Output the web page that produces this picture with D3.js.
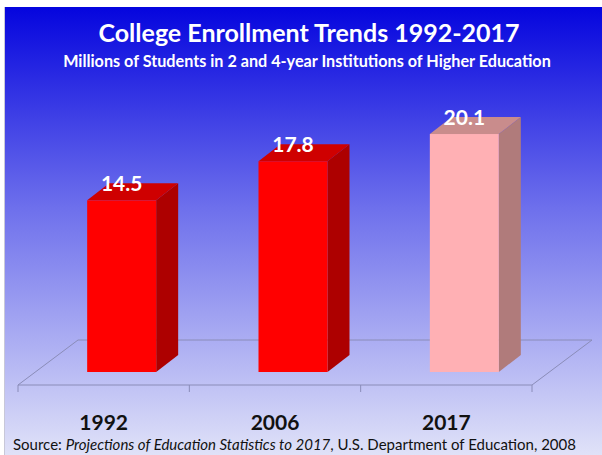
<!DOCTYPE html>
<html>
<head>
<meta charset="utf-8">
<style>
  html, body { margin: 0; padding: 0; background: #fff; }
  svg { display: block; }
</style>
</head>
<body>
<svg width="602" height="455"></svg>
<script src="https://d3js.org/d3.v7.min.js"></script>
<script>
var years = ["1992", "2006", "2017"];
var enrollment = [14.5, 17.8, 20.1];
var projected = [false, false, true];
var valueLabels = ["14.5", "17.8", "20.1"];

var svg = d3.select("svg"),
    W = +svg.attr("width"),
    H = +svg.attr("height");

// background panel with vertical blue gradient
var defs = svg.append("defs");
var grad = defs.append("linearGradient").attr("id", "bg")
    .attr("x1", 0).attr("y1", 0).attr("x2", 0).attr("y2", 1);
grad.append("stop").attr("offset", "0%").attr("stop-color", "#0505de");
grad.append("stop").attr("offset", "45%").attr("stop-color", "#6e70ec");
grad.append("stop").attr("offset", "100%").attr("stop-color", "#e0e2f8");

svg.append("rect").attr("x", 4).attr("y", 7)
    .attr("width", W - 4).attr("height", H - 7)
    .attr("fill", "url(#bg)");
svg.append("line").attr("x1", 4.5).attr("x2", 4.5).attr("y1", 7).attr("y2", H)
    .attr("stroke", "#c8c8d8");

// titles
svg.append("text").attr("x", 309).attr("y", 42)
    .attr("text-anchor", "middle")
    .attr("font-family", "Lato, 'Open Sans', sans-serif")
    .attr("font-weight", "bold").attr("font-size", 25)
    .attr("fill", "#fff")
    .text("College Enrollment Trends 1992-2017");
svg.append("text").attr("x", 307).attr("y", 67)
    .attr("text-anchor", "middle")
    .attr("font-family", "Lato, 'Open Sans', sans-serif")
    .attr("font-weight", "bold").attr("font-size", 16.2)
    .attr("fill", "#fff")
    .text("Millions of Students in 2 and 4-year Institutions of Higher Education");

// 3d geometry
var floorFront = 385,
    floorDepth = {dx: 60, dy: -45},
    barDepth = {dx: 22, dy: -17},
    barBase = 372,
    barShift = 18,
    barW = 69;

var x = d3.scaleBand().domain(years).range([18, 532]);
var y = d3.scaleLinear().domain([0, 25]).range([barBase, barBase - 25 * 11.84]);

// floor
var x0 = x.range()[0], x1 = x.range()[1];
var floor = svg.append("g").attr("fill", "none")
    .attr("stroke", "#8a8cb8").attr("stroke-width", 1);
floor.append("path").attr("d",
    "M" + x0 + "," + floorFront +
    "L" + x1 + "," + floorFront +
    "L" + (x1 + floorDepth.dx) + "," + (floorFront + floorDepth.dy) +
    "L" + (x0 + floorDepth.dx) + "," + (floorFront + floorDepth.dy) + "Z");
var tickXs = years.map(function(d) { return x(d); }).concat([x1]);
floor.selectAll("line.tick").data(tickXs).enter().append("line")
    .attr("x1", function(d) { return d; }).attr("x2", function(d) { return d; })
    .attr("y1", floorFront).attr("y2", floorFront + 7);

// bars
var data = years.map(function(d, i) {
    return {year: d, value: enrollment[i], proj: projected[i], label: valueLabels[i]};
});
var colors = {
    actual: {front: "#ff0000", side: "#ad0000", top: "#cf0000"},
    proj:   {front: "#ffb0b4", side: "#b07b7b", top: "#c98c8c"}
};

var bars = svg.append("g").selectAll("g.bar").data(data).enter().append("g");
bars.each(function(d) {
    var g = d3.select(this),
        c = d.proj ? colors.proj : colors.actual,
        left = x(d.year) + x.bandwidth() / 2 + barShift - barW / 2,
        right = left + barW,
        top = y(d.value),
        bottom = y(0),
        dx = barDepth.dx, dy = barDepth.dy;
    g.append("path").attr("fill", c.side).attr("d",
        "M" + right + "," + top + "L" + (right + dx) + "," + (top + dy) +
        "L" + (right + dx) + "," + (bottom + dy) + "L" + right + "," + bottom + "Z");
    g.append("path").attr("fill", c.top).attr("d",
        "M" + left + "," + top + "L" + (left + dx) + "," + (top + dy) +
        "L" + (right + dx) + "," + (top + dy) + "L" + right + "," + top + "Z");
    g.append("rect").attr("fill", c.front)
        .attr("x", left).attr("y", top)
        .attr("width", barW).attr("height", bottom - top);
    g.append("text").attr("x", left + barW / 2).attr("y", top - 9)
        .attr("text-anchor", "middle")
        .attr("font-family", "Lato, 'Open Sans', sans-serif")
        .attr("font-weight", "bold").attr("font-size", 21)
        .attr("fill", "#fff")
        .text(d.label);
});

// category labels
svg.append("g").selectAll("text").data(years).enter().append("text")
    .attr("x", function(d) { return x(d) + x.bandwidth() / 2; })
    .attr("y", 430)
    .attr("text-anchor", "middle")
    .attr("font-family", "Lato, 'Open Sans', sans-serif")
    .attr("font-weight", "bold").attr("font-size", 21)
    .attr("fill", "#111")
    .text(function(d) { return d; });

// source line
var src = svg.append("text").attr("x", 13).attr("y", 450)
    .attr("font-family", "Lato, 'Open Sans', sans-serif")
    .attr("font-size", 15).attr("fill", "#111");
src.append("tspan").text("Source: ");
src.append("tspan").attr("font-style", "italic").text("Projections of Education Statistics to 2017");
src.append("tspan").text(", U.S. Department of Education, 2008");
</script>
</body>
</html>
